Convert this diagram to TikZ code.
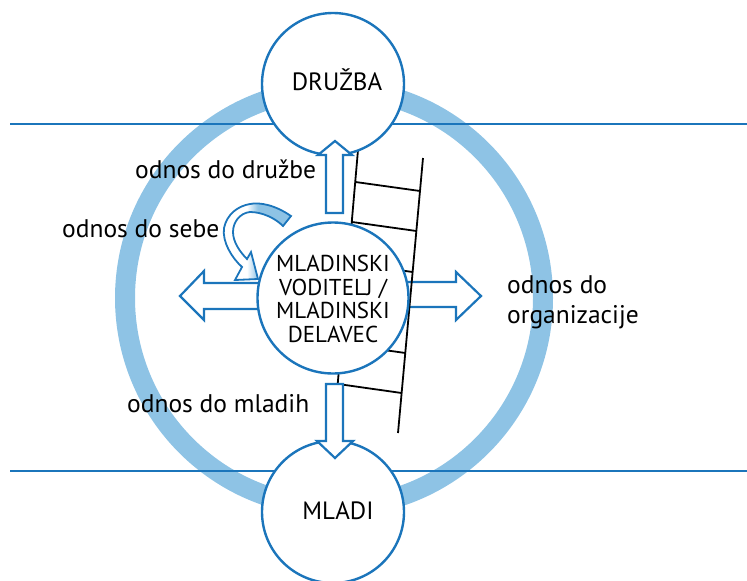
\documentclass[tikz,border=0pt]{standalone}
\usepackage{fontspec}
\setmainfont{PT Sans}
\definecolor{dblue}{HTML}{1B75BB}
\definecolor{lblue}{HTML}{8EC3E5}
\pgfdeclarehorizontalshading{curlsh}{100bp}{color(0bp)=(white); color(43bp)=(white); color(51bp)=(lblue); color(100bp)=(lblue)}
\tikzset{
  hline/.style={dblue, line width=2.8},
  ringst/.style={lblue, line width=20},
  rail/.style={black, line width=1.8},
  circ/.style={circle, draw=dblue, fill=white, line width=2.4, inner sep=0, minimum size=#1},
  arr/.style={draw=dblue, fill=white, line width=2.2, line join=miter},
  big/.style={font=\fontsize{25}{28}\selectfont, inner sep=0},
  lbl/.style={font=\fontsize{25.5}{30}\selectfont, inner sep=0, anchor=base west},
}
\begin{document}
\begin{tikzpicture}[x=1pt,y=-1pt]
\useasboundingbox (0,0) rectangle (747,581);
% ring and horizontal lines
\draw[ringst] (334,298) circle[radius=209];
\draw[hline] (10,124) -- (747,124);
\draw[hline] (10,471) -- (747,471);
% horizontal arrows (behind centre circle)
\draw[arr] (262,283) -- (204,283) -- (204,271) -- (180,296) -- (204,320) -- (204,309) -- (262,309) -- cycle;
\draw[arr] (404,282) -- (456,282) -- (456,272) -- (481,296) -- (456,320) -- (456,307) -- (404,307) -- cycle;
% ladder
\draw[rail] (358,150) -- (337,392);
\draw[rail] (423,158) -- (398,433);
\draw[rail] (355.5,182) -- (420,191);
\draw[rail] (352.1,222) -- (416.4,231);
\draw[rail] (348.5,263) -- (412.6,272);
\draw[rail] (341.6,344) -- (405.3,353);
\draw[rail] (338.1,384) -- (401.6,393);
% circles
\node[circ=142] (top) at (333,84) {};
\node[circ=142] (bot) at (333,512) {};
\node[circ=151] (mid) at (333,298) {};
% vertical arrows
\draw[arr] (326,213) -- (326,155) -- (318,155) -- (335,141) -- (352,155) -- (343,155) -- (343,213) -- cycle;
\draw[arr] (326,384) -- (326,441) -- (317,441) -- (335,458) -- (353,441) -- (343,441) -- (343,384) -- cycle;
% curved arrow
\shadedraw[shading=curlsh, draw=dblue, line width=1.8, line join=miter]
  (291,216) .. controls (275,205) and (260,202) .. (250,204)
  .. controls (238,206) and (227,214) .. (224,228)
  .. controls (222,242) and (232,258) .. (242,267)
  -- (235,280) -- (258,279) -- (251,252) -- (247,259)
  .. controls (240,252) and (233,242) .. (233,232)
  .. controls (233,222) and (240,213) .. (250,212)
  .. controls (262,212) and (275,218) .. (283,226) -- cycle;
% texts
\node[big, anchor=base] (tdruzba) at (337,90) {DRUŽBA};
\node[big, anchor=base] (tmladi) at (338,519) {MLADI};
\node[font=\fontsize{23}{23.5}\selectfont, align=center, inner sep=0] (tmid) at (333,299) {MLADINSKI\\VODITELJ /\\MLADINSKI\\DELAVEC};
\node[lbl] (l1) at (135,178) {odnos do družbe};
\node[lbl] (l2) at (62,237) {odnos do sebe};
\node[lbl] (l3) at (127,412) {odnos do mladih};
\node[lbl, align=left, anchor=north west, font=\fontsize{25.5}{30}\selectfont] (l4) at (507,275) {odnos do\\organizacije};
\end{tikzpicture}
\end{document}
